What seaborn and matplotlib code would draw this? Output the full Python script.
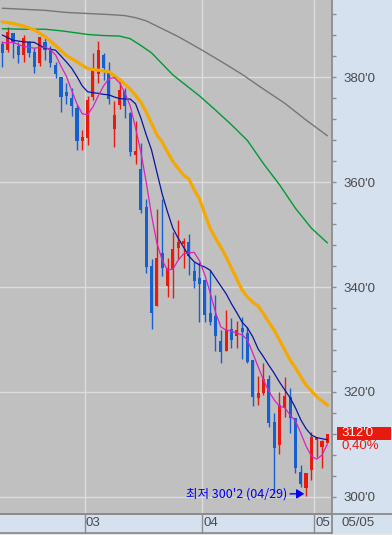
import numpy as np
import pandas as pd
import seaborn as sns
import matplotlib.pyplot as plt
from matplotlib import font_manager
from matplotlib.lines import Line2D
from matplotlib.patches import Rectangle
from matplotlib.ticker import FixedLocator, MultipleLocator, FuncFormatter
import matplotlib.transforms as mtransforms

# daily candles (feb .. 05/05), prices
opens = [386.3, 385.1, 388.4, 385.9, 384.2, 386.7, 384.8, 382.7, 386.7, 385.3,
         382.3, 380.0, 377.1, 376.0, 374.1, 367.8, 368.4, 376.2, 380.6, 384.2,
         381.1, 370.1, 374.7, 377.3, 373.1, 365.1, 362.5, 355.2, 344.0, 336.4,
         346.5, 340.2, 343.4, 347.4, 348.2, 348.6, 343.1, 341.7, 341.3, 335.1,
         334.5, 329.7, 327.8, 332.0, 330.7, 332.2, 331.2, 326.1, 318.9, 319.8,
         322.5, 314.3, 309.9, 317.0, 319.0, 315.0, 304.8, 301.7, 305.1, 310.9,
         309.5, 310.3]
highs = [386.9, 389.5, 388.4, 386.7, 388.0, 386.9, 385.5, 387.6, 387.4, 385.9,
         382.9, 380.0, 378.9, 377.9, 374.7, 369.9, 376.4, 384.6, 386.9, 384.6,
         382.9, 375.4, 379.8, 377.9, 373.3, 371.6, 367.4, 356.8, 345.3, 354.9,
         356.8, 345.5, 350.5, 352.8, 349.3, 350.1, 344.8, 344.8, 341.3, 343.2,
         338.5, 331.8, 335.6, 334.1, 333.5, 334.3, 332.4, 326.1, 323.0, 325.5,
         323.3, 316.0, 320.0, 322.9, 320.8, 315.0, 306.1, 304.6, 312.4, 311.4,
         310.9, 312.0]
lows = [381.9, 384.8, 383.6, 382.7, 382.9, 383.8, 380.8, 382.1, 383.2, 381.9,
        379.8, 373.3, 374.9, 372.6, 366.1, 366.1, 367.1, 375.6, 378.9, 379.4,
        374.9, 366.7, 373.9, 372.2, 365.0, 363.4, 354.1, 342.7, 332.0, 336.4,
        342.1, 338.1, 337.9, 345.3, 343.6, 342.3, 339.8, 333.3, 333.3, 332.8,
        327.8, 325.5, 327.8, 328.4, 328.4, 326.3, 325.5, 317.3, 317.5, 319.4,
        313.3, 300.8, 308.2, 315.2, 312.2, 304.6, 301.9, 300.25, 303.2, 307.6,
        305.5, 310.3]
closes = [384.6, 388.6, 386.5, 384.2, 387.4, 384.6, 381.9, 387.6, 385.1, 382.7,
          380.6, 376.2, 376.4, 374.5, 367.8, 368.6, 375.6, 381.3, 385.1, 381.7,
          375.8, 372.8, 377.5, 374.5, 365.7, 365.9, 354.7, 343.8, 335.1, 345.5,
          343.6, 343.6, 347.2, 348.6, 348.8, 345.9, 341.1, 340.6, 334.7, 333.3,
          330.7, 327.6, 331.8, 329.9, 331.8, 331.4, 325.7, 319.0, 319.8, 322.5,
          314.1, 309.3, 317.5, 319.2, 315.0, 305.5, 302.5, 304.6, 311.4, 311.4,
          310.75, 312.0]

# moving averages (candle index, price)
ma5_idx = [0, 2, 4, 6, 8] + list(range(9, 62))
ma5_val = [386.5, 386.6, 385.8, 385.5, 385.7, 385.2, 384.2, 382.1, 380.2, 377.5,
           374.9, 373.0, 372.8, 374.3, 376.4, 378.3, 379.7, 379.9, 378.9, 377.0,
           374.5, 370.3, 365.7, 360.0, 353.7, 348.4, 345.1, 343.2, 343.4, 345.1,
           346.3, 346.5, 346.6, 345.0, 342.3, 338.9, 335.2, 332.4, 331.8, 331.6,
           331.2, 330.9, 329.9, 327.4, 324.8, 322.3, 320.2, 318.5, 317.3, 317.0,
           315.6, 314.5, 312.2, 309.7, 307.8, 307.2, 308.0, 310.1]
ma10_idx = [0, 2, 4, 6, 8] + list(range(10, 62))
ma10_val = [388.0, 387.0, 386.7, 386.6, 385.5, 385.1, 384.0, 382.9, 381.7, 380.1,
            378.3, 377.2, 377.0, 376.9, 376.7, 376.6, 376.2, 375.9, 375.8, 375.8,
            374.9, 372.2, 369.0, 366.1, 361.9, 357.7, 354.3, 351.2, 349.3, 347.6,
            345.9, 344.8, 344.2, 343.8, 343.2, 341.7, 340.2, 338.7, 336.8, 335.1,
            333.3, 332.2, 330.5, 328.2, 326.7, 325.1, 323.6, 321.9, 320.4, 318.9,
            317.0, 314.7, 313.0, 311.8, 311.3, 311.1, 310.9]
ma20_idx = [0, 2, 4, 6, 8, 10, 12, 14, 16, 18, 20, 22, 24] + list(range(25, 62))
ma20_val = [390.5, 390.2, 389.7, 389.0, 387.7, 386.0, 384.1, 382.9, 381.6, 381.3,
            381.0, 379.5, 377.7, 376.5, 375.2, 373.3, 371.2, 369.0, 367.6, 365.7,
            363.9, 362.6, 361.3, 360.6, 358.5, 356.8, 353.9, 351.2, 349.3, 347.6,
            345.7, 343.6, 341.5, 339.4, 338.1, 337.1, 336.4, 334.9, 333.3, 331.8,
            329.9, 328.0, 326.1, 324.6, 322.9, 321.3, 320.2, 319.1, 318.3, 317.5]
ma60_idx = [0, 4, 8, 11, 14, 16, 19, 22, 24, 26, 28, 30, 32, 34, 37, 40, 43, 46,
            49, 52, 55, 58, 61]
ma60_val = [389.2, 389.1, 389.1, 388.8, 388.4, 388.1, 387.9, 387.8, 387.3, 386.0,
            384.6, 382.5, 380.4, 378.8, 376.4, 373.7, 370.9, 367.9, 363.5, 359.5,
            355.0, 351.2, 348.4]
ma120_idx = [0, 4, 8, 12, 16, 20, 23, 25, 27, 29, 31, 33, 37, 41, 45, 49, 53, 57, 61]
ma120_val = [393.1, 392.9, 392.7, 392.3, 392.1, 391.9, 391.7, 391.3, 390.7, 389.7,
             388.7, 387.7, 385.4, 383.0, 380.5, 377.7, 375.0, 371.8, 368.8]

month_bounds = [15.5, 37.5, 58.5]
month_labels = ['03', '04', '05']
price_ticks = [300, 320, 340, 360, 380]
last_date = '05/05'
last_price = "312'0"
last_change = '0,40%'
low_text = "최저 300'2 (04/29)"

W, H = 392, 535
PLOT_BG = '#C0C0C0'
PANEL = '#D6E1EF'
RED = '#E8190D'
BLUE = '#1560D0'
EDGE = '#8C8C8C'
TXT = '#4A4A4A'

sns.set_style('white')
plt.rcParams['font.family'] = ['Noto Sans CJK KR', 'DejaVu Sans']
names = {f.name for f in font_manager.fontManager.ttflist}
num_font = 'Liberation Sans Narrow' if 'Liberation Sans Narrow' in names else 'Liberation Sans'

fig = plt.figure(figsize=(W / 100, H / 100), dpi=100, facecolor=PANEL)
ax = fig.add_axes([0, 21 / H, 332 / W, 514 / H])
ax.set_facecolor(PLOT_BG)

df = pd.DataFrame({'o': opens, 'h': highs, 'l': lows, 'c': closes})
df['i'] = np.arange(len(df))
colors = np.where(df['c'] >= df['o'], RED, BLUE)

# grid
for xb in month_bounds:
    ax.axvline(xb, color='#DCDCDC', lw=1, zorder=0)
for yt in price_ticks:
    ax.axhline(yt, color='#DCDCDC', lw=1, zorder=0)

# candles
ax.vlines(df['i'], df['l'], df['h'], colors=colors, lw=1, zorder=2)
ax.bar(df['i'], (df['c'] - df['o']).abs().clip(lower=0.35),
       bottom=np.minimum(df['o'], df['c']), width=0.6, color=colors, lw=0, zorder=2)

# moving averages
sns.lineplot(x=ma120_idx, y=ma120_val, ax=ax, color='#767676', lw=1, zorder=3)
sns.lineplot(x=ma60_idx, y=ma60_val, ax=ax, color='#009A33', lw=1, zorder=3)
sns.lineplot(x=ma20_idx, y=ma20_val, ax=ax, color='#F5A800', lw=2.3, zorder=3)
sns.lineplot(x=ma10_idx, y=ma10_val, ax=ax, color='#0A14A0', lw=0.9, zorder=4)
sns.lineplot(x=ma5_idx, y=ma5_val, ax=ax, color='#E01EC0', lw=0.9, zorder=4)

ax.set_xlim(-0.43, 61.86)
ax.set_ylim(296.76, 394.67)
ax.set_xticks([])
ax.set_xlabel('')
ax.set_ylabel('')

# right price axis
ax.yaxis.tick_right()
ax.yaxis.set_major_locator(FixedLocator(price_ticks))
ax.yaxis.set_minor_locator(MultipleLocator(4))
ax.yaxis.set_major_formatter(FuncFormatter(lambda v, p: f"{int(round(v))}'0"))
ax.tick_params(axis='y', which='both', direction='out', length=3, width=1,
               color=EDGE, labelcolor=TXT, labelsize=9.5, pad=5)
for lbl in ax.get_yticklabels():
    lbl.set_fontfamily(num_font)
for side in ['left', 'top']:
    ax.spines[side].set_visible(False)
for side in ['right', 'bottom']:
    ax.spines[side].set_color(EDGE)
    ax.spines[side].set_linewidth(1.3)

# lowest price note
low_i = int(np.argmin(lows))
low_p = lows[low_i]
ax.annotate('', xy=(low_i - 0.35, low_p + 0.35), xytext=(low_i - 3.0, low_p + 0.35),
            arrowprops=dict(arrowstyle='-|>,head_length=0.45,head_width=0.28',
                            color='#0000F0', lw=1, mutation_scale=10, shrinkA=0, shrinkB=0),
            zorder=5)
ax.text(low_i - 22.5, low_p + 0.35, low_text, color='#0000F0', fontsize=9,
        ha='left', va='center', zorder=5)

# bottom date strip
blend = mtransforms.blended_transform_factory(ax.transData, fig.transFigure)
y_top, y_bot = 1 - 514 / H, 1 - 532.5 / H
fig.add_artist(Rectangle((0, 0), 1, 1 - 532.5 / H, transform=fig.transFigure,
                         color='#E4E4E4', lw=0, zorder=0))
fig.add_artist(Line2D([0, 1], [y_top, y_top], transform=fig.transFigure, color=EDGE, lw=1.3))
fig.add_artist(Line2D([0, 332 / W], [y_bot, y_bot], transform=fig.transFigure, color=EDGE, lw=1.3))
fig.add_artist(Line2D([332 / W, 332 / W], [y_bot, y_top], transform=fig.transFigure, color=EDGE, lw=1.3))
for xb, lab in zip(month_bounds, month_labels):
    fig.add_artist(Line2D([xb, xb], [y_bot, y_top], transform=blend, color=EDGE, lw=1))
    fig.text(0, (y_top + y_bot) / 2, lab, transform=blend, fontsize=9.5, color=TXT,
             family=num_font, ha='left', va='center').set_x(xb + 0.2)
fig.text(341 / W, (y_top + y_bot) / 2, last_date, fontsize=9.5, color=TXT,
         family=num_font, ha='left', va='center')

# last price box
fig.add_artist(Rectangle((337 / W, 1 - 440 / H), 54 / W, 13 / H,
                         transform=fig.transFigure, color=RED, lw=0))
fig.text(341 / W, 1 - 433.5 / H, last_price, fontsize=9.5, color='white',
         family=num_font, ha='left', va='center')
fig.text(341 / W, 1 - 446 / H, last_change, fontsize=9.5, color=RED,
         family=num_font, ha='left', va='center')

fig.savefig('out.png', dpi=100, facecolor=PANEL)
